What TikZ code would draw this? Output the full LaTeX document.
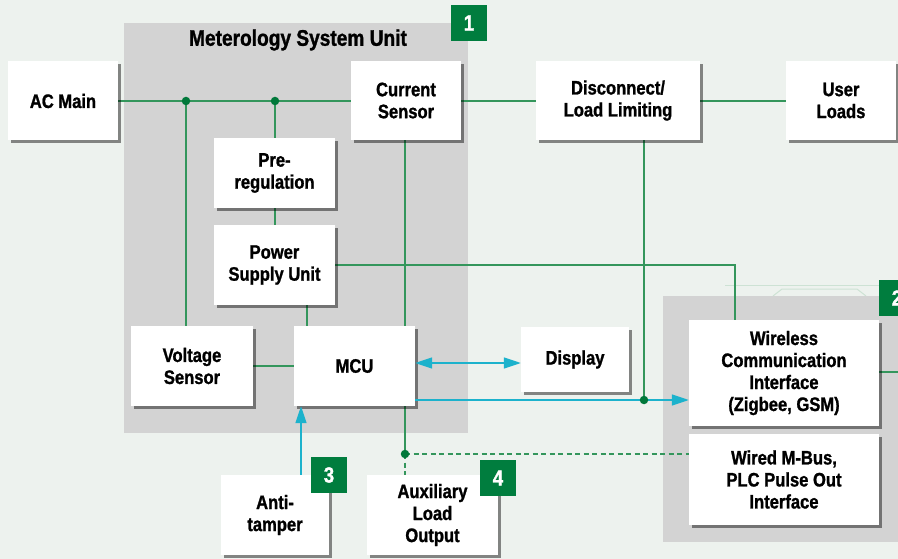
\documentclass[tikz,border=0pt]{standalone}
\usepackage{fontspec}
\newfontfamily\lblfont{Liberation Sans}[FakeStretch=0.85,FakeBold=1.2]
\usetikzlibrary{arrows.meta,shadows}
\definecolor{bgc}{RGB}{237,242,238}
\definecolor{panel}{RGB}{211,211,211}
\definecolor{badgec}{RGB}{0,125,62}
\definecolor{linec}{RGB}{52,150,92}
\definecolor{dotc}{RGB}{0,120,58}
\definecolor{cyanc}{RGB}{28,178,204}
\definecolor{faint}{RGB}{205,226,212}
\tikzset{
  box/.style={draw=none,fill=white,inner sep=0pt,align=center,
    font=\lblfont\bfseries\fontsize{19.5}{22}\selectfont,
    drop shadow={shadow xshift=3pt,shadow yshift=-3pt,fill=black,opacity=0.45}},
  badge/.style={fill=badgec,text=white,inner sep=0pt,minimum width=36pt,minimum height=36pt,
    font=\lblfont\bfseries\fontsize{22}{24}\selectfont},
  conn/.style={draw=linec,line width=1.2pt},
  dconn/.style={draw=linec,line width=1.2pt,dash pattern=on 5pt off 3.5pt},
  carrow/.style={draw=cyanc,line width=1.3pt,-{Triangle[length=17pt,width=11pt]}},
  cdarrow/.style={draw=cyanc,line width=1.3pt,{Triangle[length=17pt,width=11pt]}-{Triangle[length=17pt,width=11pt]}},
  jdot/.style={circle,fill=dotc,inner sep=0pt,minimum size=8.5pt}
}
\begin{document}
\begin{tikzpicture}[x=1pt,y=-1pt]
\useasboundingbox (0,0) rectangle (898,559);
\clip (0,0) rectangle (898,559);
\fill[bgc] (0,0) rectangle (898,559);
% faint decorative lines
\draw[faint,line width=1pt] (725,285) -- (898,285);
\draw[faint,line width=1pt] (773,296) -- (782,289) -- (857,289) -- (866,296);
% panels
\fill[panel] (124,23) rectangle (468,433);
\fill[panel] (663,296) rectangle (905,542);
\node[badge] (b1) at (469,23) {1};
\node[badge] (b2) at (897,298) {2};
\node[font=\lblfont\bfseries\fontsize{22.5}{24}\selectfont] (title) at (298,40) {Meterology System Unit};
% coordinates
\coordinate (j1) at (186,101);
\coordinate (j2) at (275,101);
\coordinate (j3) at (644,400);
\coordinate (j4) at (405,454);
\coordinate (c1) at (735,265);
\coordinate (c2) at (301,440);
\coordinate (c3) at (307,315);
\coordinate (e1) at (898,372);
% connectors drawn under boxes
\draw[conn] (8,101) -- (j1) -- (j2) -- (406,101);
\draw[conn] (406,101) -- (618,101);
\draw[conn] (618,101) -- (841,101);
\draw[conn] (j1) -- (186,366);
\draw[conn] (j2) -- (275,173);
\draw[conn] (275,173) -- (275,265);
\draw[conn] (275,265) -- (c1) -- (735,373);
\draw[conn] (c3 |- 0,265) -- (c3 |- 0,366);
\draw[conn] (405,101) -- (405,366);
\draw[conn] (192,366) -- (354,366);
\draw[conn] (644,101) -- (j3);
\draw[conn] (354,366) -- (405,366) -- (j4);
\draw[dconn] (j4) -- (784,454);
\draw[dconn] (j4) -- (405,515);
\draw[conn] (784,372) -- (e1);
% boxes
\node[box,minimum width=110pt,minimum height=79pt] (ac) at (63,101) {AC Main};
\node[box,minimum width=110pt,minimum height=79pt] (cs) at (406,100.5) {Current\\Sensor};
\node[box,minimum width=164pt,minimum height=79pt] (dl) at (618,100.5) {Disconnect/\\Load Limiting};
\node[box,minimum width=110pt,minimum height=79pt] (ul) at (841,100.5) {User\\Loads};
\node[box,minimum width=121pt,minimum height=70pt] (pre) at (274.5,173) {Pre-\\regulation};
\node[box,minimum width=121pt,minimum height=80pt] (psu) at (274.5,265) {Power\\Supply Unit};
\node[box,minimum width=122pt,minimum height=80pt] (vs) at (192,366) {Voltage\\Sensor};
\node[box,minimum width=121pt,minimum height=80pt] (mcu) at (354.5,366) {MCU};
\node[box,minimum width=108pt,minimum height=65pt] (disp) at (575,359.5) {Display};
\node[box,minimum width=190pt,minimum height=106pt] (wl) at (784,373) {Wireless\\Communication\\Interface\\(Zigbee, GSM)};
\node[box,minimum width=190pt,minimum height=91pt] (wd) at (784,479.5) {Wired M-Bus,\\PLC Pulse Out\\Interface};
\node[box,minimum width=108pt,minimum height=80pt] (at) at (275,515) {Anti-\\tamper};
\node[box,minimum width=131pt,minimum height=80pt] (aux) at (432.5,515) {Auxiliary\\Load\\Output};
\node[badge] (b3) at (329,475) {3};
\node[badge] (b4) at (498,478) {4};
% cyan arrows
\draw[cdarrow] ([yshift=3pt]mcu.east) -- (disp.west |- 0,363);
\draw[carrow] (mcu.east |- j3) -- (wl.west |- j3);
\draw[carrow] (at.north -| c2) -- (mcu.south -| c2);
% junction dots
\node[jdot] (d1) at (j1) {};
\node[jdot] (d2) at (j2) {};
\node[jdot] (d3) at (j3) {};
\node[jdot] (d4) at (j4) {};
\end{tikzpicture}
\end{document}
